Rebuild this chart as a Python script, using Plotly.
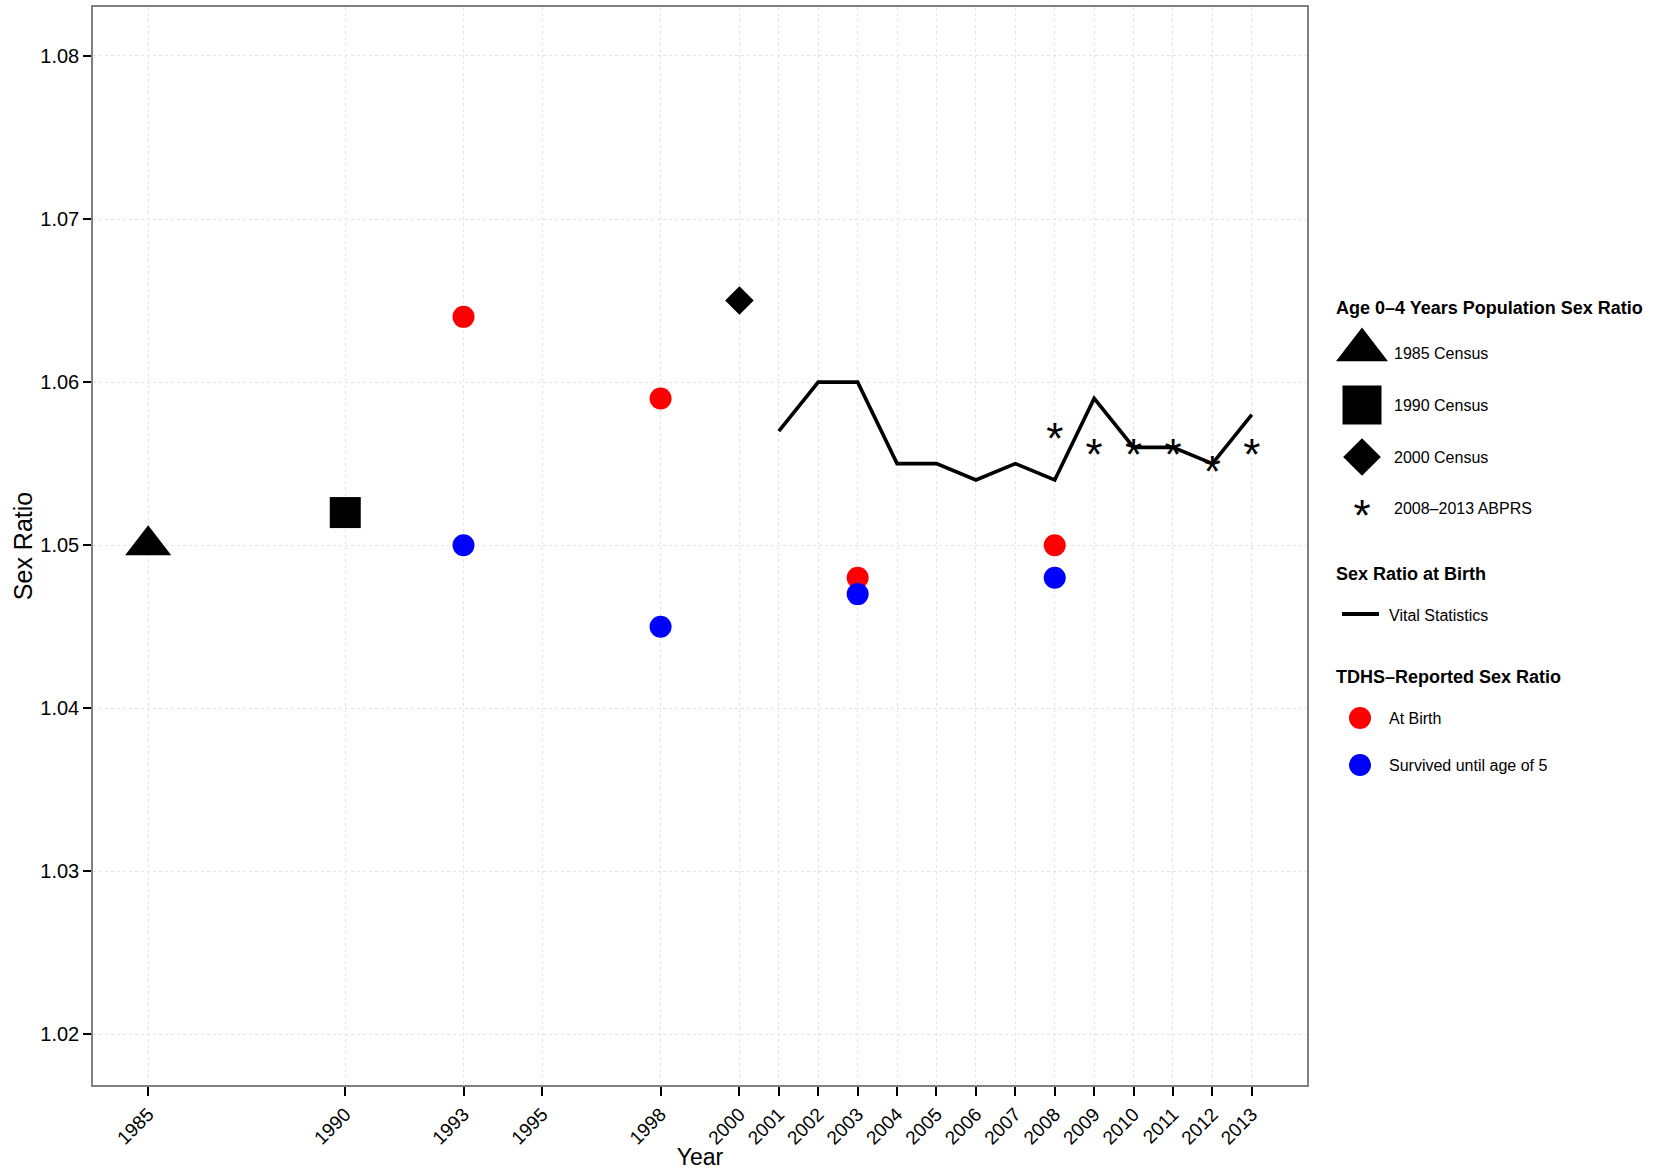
import plotly.graph_objects as go

W, H = 1653, 1170
FONT = "Liberation Sans, Arial, Helvetica, sans-serif"

# ---------------- data ----------------
census_years = [1985, 1990, 2000]
census_ratio = [1.050, 1.052, 1.065]
census_labels = ["1985 Census", "1990 Census", "2000 Census"]

abprs_years = [2008, 2009, 2010, 2011, 2012, 2013]
abprs_ratio = [1.057, 1.056, 1.056, 1.056, 1.055, 1.056]

vital_years = [2001, 2002, 2003, 2004, 2005, 2006, 2007, 2008, 2009, 2010, 2011, 2012, 2013]
vital_ratio = [1.057, 1.060, 1.060, 1.055, 1.055, 1.054, 1.055, 1.054, 1.059, 1.056, 1.056, 1.055, 1.058]

tdhs_years = [1993, 1998, 2003, 2008]
tdhs_birth = [1.064, 1.059, 1.048, 1.050]
tdhs_survived = [1.050, 1.045, 1.047, 1.048]

x_ticks = [1985, 1990, 1993, 1995, 1998, 2000, 2001, 2002, 2003, 2004, 2005,
           2006, 2007, 2008, 2009, 2010, 2011, 2012, 2013]
y_ticks = [1.02, 1.03, 1.04, 1.05, 1.06, 1.07, 1.08]

legend_titles = ["Age 0\u20134 Years Population Sex Ratio", "Sex Ratio at Birth",
                 "TDHS\u2013Reported Sex Ratio"]
legend_labels = ["1985 Census", "1990 Census", "2000 Census", "2008\u20132013 ABPRS",
                 "Vital Statistics", "At Birth", "Survived until age of 5"]

# ---------------- layout geometry (pixels) ----------------
PL, PR, PT, PB = 93, 1307, 7, 1085
X_RANGE = [1983.6, 2014.4]
Y_RANGE = [1.0169, 1.0830]

# the "*" glyph sits above the text box centre; an overlay axis shifted by
# that many pixels keeps the glyph centred on its value
AST_SIZE = 44
AST_RAISE_PX = 12
dy = AST_RAISE_PX * (Y_RANGE[1] - Y_RANGE[0]) / (PB - PT)
Y_RANGE_AST = [Y_RANGE[0] + dy, Y_RANGE[1] + dy]

fig = go.Figure()

census_symbols = ["triangle-up", "square", "diamond"]
census_sizes = [40, 31, 22]
for yr, val, sym, sz, lab in zip(census_years, census_ratio, census_symbols, census_sizes, census_labels):
    fig.add_trace(go.Scatter(x=[yr], y=[val], mode="markers", name=lab, showlegend=False,
                             marker=dict(symbol=sym, size=sz, color="black", line=dict(width=0)),
                             xaxis="x", yaxis="y"))

fig.add_trace(go.Scatter(x=vital_years, y=vital_ratio, mode="lines", name="Vital Statistics",
                         showlegend=False, line=dict(color="black", width=3.6),
                         xaxis="x", yaxis="y"))

fig.add_trace(go.Scatter(x=abprs_years, y=abprs_ratio, mode="text", name="2008\u20132013 ABPRS",
                         showlegend=False, text=["*"] * len(abprs_years),
                         textposition="middle center",
                         textfont=dict(family=FONT, size=AST_SIZE, color="black"),
                         xaxis="x", yaxis="y3"))

fig.add_trace(go.Scatter(x=tdhs_years, y=tdhs_birth, mode="markers", name="At Birth",
                         showlegend=False, marker=dict(symbol="circle", size=22, color="#FF0000"),
                         xaxis="x", yaxis="y"))
fig.add_trace(go.Scatter(x=tdhs_years, y=tdhs_survived, mode="markers", name="Survived until age of 5",
                         showlegend=False, marker=dict(symbol="circle", size=22, color="#0000FF"),
                         xaxis="x", yaxis="y"))

# ---------------- manual legend on a pixel-unit helper axis ----------------
key_x = 1362
key_y = [350, 405, 457, 508]
lab_x1 = 1392
lab_x2 = 1387
lab_y = [353, 405, 457, 508]
title_x = 1334
title_y = [308, 574, 677]

leg_sym = ["triangle-up", "square", "diamond"]
leg_size = [45, 39, 29]
for i in range(3):
    fig.add_trace(go.Scatter(x=[key_x], y=[key_y[i]], mode="markers", showlegend=False,
                             hoverinfo="skip",
                             marker=dict(symbol=leg_sym[i], size=leg_size[i], color="black"),
                             xaxis="x2", yaxis="y2"))
fig.add_trace(go.Scatter(x=[key_x], y=[key_y[3] + AST_RAISE_PX], mode="text", showlegend=False,
                         hoverinfo="skip", text=["*"], textposition="middle center",
                         textfont=dict(family=FONT, size=AST_SIZE, color="black"),
                         xaxis="x2", yaxis="y2"))
fig.add_trace(go.Scatter(x=[1342, 1379], y=[614, 614], mode="lines", showlegend=False,
                         hoverinfo="skip", line=dict(color="black", width=4),
                         xaxis="x2", yaxis="y2"))
fig.add_trace(go.Scatter(x=[1360], y=[718], mode="markers", showlegend=False, hoverinfo="skip",
                         marker=dict(symbol="circle", size=22, color="#FF0000"),
                         xaxis="x2", yaxis="y2"))
fig.add_trace(go.Scatter(x=[1360], y=[765], mode="markers", showlegend=False, hoverinfo="skip",
                         marker=dict(symbol="circle", size=22, color="#0000FF"),
                         xaxis="x2", yaxis="y2"))

annotations = []
for t, ty in zip(legend_titles, title_y):
    annotations.append(dict(x=title_x, y=ty, xref="x2", yref="y2", text="<b>%s</b>" % t,
                            showarrow=False, xanchor="left", yanchor="middle",
                            font=dict(family=FONT, size=18, color="black")))
label_pos = [(lab_x1, lab_y[0]), (lab_x1, lab_y[1]), (lab_x1, lab_y[2]), (lab_x1, lab_y[3]),
             (lab_x2, 615), (lab_x2, 718), (lab_x2, 765)]
for lab, (lx, ly) in zip(legend_labels, label_pos):
    annotations.append(dict(x=lx, y=ly, xref="x2", yref="y2", text=lab, showarrow=False,
                            xanchor="left", yanchor="middle",
                            font=dict(family=FONT, size=16, color="black")))

fig.update_layout(
    width=W, height=H,
    margin=dict(l=0, r=0, t=0, b=0),
    paper_bgcolor="white", plot_bgcolor="white",
    font=dict(family=FONT, color="black"),
    showlegend=False,
    annotations=annotations,
    xaxis=dict(domain=[PL / W, PR / W], range=X_RANGE, tickmode="array", tickvals=x_ticks,
               ticktext=[str(v) for v in x_ticks], tickangle=-45,
               tickfont=dict(size=19, color="black"),
               showgrid=True, gridcolor="#e3e3e3", griddash="dot", gridwidth=1,
               zeroline=False, showline=True, linecolor="#808080", linewidth=1.5, mirror=True,
               ticks="outside", ticklen=9, tickwidth=2, tickcolor="black",
               title=dict(text="Year", font=dict(size=23, color="black"), standoff=4),
               anchor="y"),
    yaxis=dict(domain=[1 - PB / H, 1 - PT / H], range=Y_RANGE, tickmode="array", tickvals=y_ticks,
               ticktext=["%.2f" % v for v in y_ticks],
               tickfont=dict(size=20, color="black"),
               showgrid=True, gridcolor="#e3e3e3", griddash="dot", gridwidth=1,
               zeroline=False, showline=True, linecolor="#808080", linewidth=1.5, mirror=True,
               ticks="outside", ticklen=8, tickwidth=2, tickcolor="black",
               title=dict(text="Sex Ratio", font=dict(size=25, color="black"), standoff=1),
               anchor="x"),
    yaxis3=dict(domain=[1 - PB / H, 1 - PT / H], range=Y_RANGE_AST, overlaying="y",
                visible=False, fixedrange=True, anchor="x"),
    xaxis2=dict(domain=[PR / W, 1], range=[PR, W], visible=False, fixedrange=True, anchor="y2"),
    yaxis2=dict(domain=[0, 1], range=[H, 0], visible=False, fixedrange=True, anchor="x2"),
)

fig.write_html("out.html", config={"displayModeBar": False},
               post_script="document.body.style.margin='0';document.body.style.overflow='hidden';")
